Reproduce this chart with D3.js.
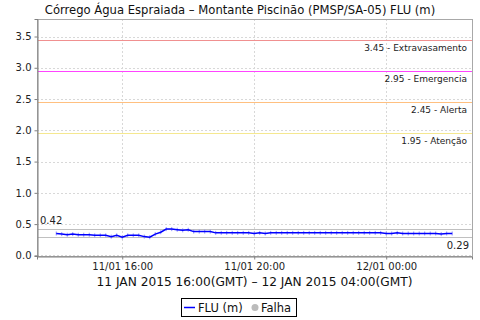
<!DOCTYPE html>
<html>
<head>
<meta charset="utf-8">
<style>
  body { margin: 0; background: #fff; }
  svg { display: block; font-family: "DejaVu Sans", sans-serif; }
</style>
</head>
<body>
<svg id="chart"></svg>
<script src="https://d3js.org/d3.v7.min.js"></script>
<script>

  // readings every 10 minutes, from 11/01 14:00 to 12/01 02:00 (GMT)
  var startTime = "2015-01-11T14:00:00Z";
  var stepMinutes = 10;
  var levels = [
    0.35, 0.34, 0.33, 0.34, 0.33, 0.33, 0.33, 0.32, 0.32, 0.32, 0.30, 0.32,
    0.29, 0.32, 0.32, 0.32, 0.30, 0.29, 0.34, 0.37, 0.42, 0.42, 0.41, 0.40,
    0.41, 0.38, 0.38, 0.38, 0.38, 0.36, 0.36, 0.36, 0.36, 0.36, 0.36, 0.36,
    0.35, 0.36, 0.35, 0.36, 0.36, 0.36, 0.36, 0.36, 0.36, 0.36, 0.36, 0.36,
    0.36, 0.36, 0.36, 0.36, 0.36, 0.36, 0.36, 0.36, 0.36, 0.36, 0.36, 0.36,
    0.35, 0.35, 0.36, 0.35, 0.35, 0.35, 0.35, 0.35, 0.35, 0.35, 0.34, 0.35,
    0.35
  ];

  var thresholdValues = [3.45, 2.95, 2.45, 1.95];
  var thresholdNames = ["Extravasamento", "Emergencia", "Alerta", "Atenção"];
  var thresholdColors = ["#f09090", "#ff44ff", "#ffc080", "#f5e890"];

  var maxValue = 0.42;
  var minValue = 0.29;

  var yTicks = [0.0, 0.5, 1.0, 1.5, 2.0, 2.5, 3.0, 3.5];
  var xTicks = ["2015-01-11T16:00:00Z", "2015-01-11T20:00:00Z", "2015-01-12T00:00:00Z"];

  var title = "Córrego Água Espraiada – Montante Piscinão (PMSP/SA-05) FLU (m)";
  var xLabel = "11 JAN 2015 16:00(GMT) – 12 JAN 2015 04:00(GMT)";
  var seriesName = "FLU (m)";
  var failName = "Falha";

  var width = 480, height = 320;
  var plot = {left: 37, right: 472, top: 19, bottom: 256};

  var svg = d3.select("#chart")
    .attr("width", width)
    .attr("height", height);

  var data = levels.map(function(v, i) {
    return {time: new Date(Date.parse(startTime) + i * stepMinutes * 60000), value: v};
  });

  var xScale = d3.scaleUtc()
    .domain([new Date("2015-01-11T13:25:00Z"), new Date("2015-01-12T02:36:00Z")])
    .range([plot.left, plot.right]);

  var yScale = d3.scaleLinear()
    .domain([-0.01, 3.78])
    .range([plot.bottom, plot.top]);

  function py(v) { return Math.round(yScale(v)) + 0.5; }

  // title
  svg.append("text")
    .attr("x", 240)
    .attr("y", 14)
    .attr("text-anchor", "middle")
    .attr("fill", "#111")
    .style("font-size", "11.6px")
    .text(title);

  // grid
  var grid = svg.append("g");

  grid.selectAll("line.h")
    .data(yTicks)
    .enter().append("line")
    .attr("class", "h")
    .attr("x1", plot.left)
    .attr("x2", plot.right)
    .attr("y1", py)
    .attr("y2", py);

  grid.selectAll("line.v")
    .data(xTicks)
    .enter().append("line")
    .attr("class", "v")
    .attr("y1", plot.top)
    .attr("y2", plot.bottom)
    .attr("x1", function(d) { return Math.round(xScale(new Date(d))) + 0.5; })
    .attr("x2", function(d) { return Math.round(xScale(new Date(d))) + 0.5; });

  grid.selectAll("line")
    .style("stroke", "#d8d8d8")
    .style("stroke-dasharray", "2 2")
    .style("stroke-width", "1px");

  // thresholds
  var thresholds = svg.append("g");
  thresholds.selectAll("line")
    .data(thresholdValues)
    .enter().append("line")
    .attr("x1", plot.left)
    .attr("x2", plot.right)
    .attr("y1", py)
    .attr("y2", py)
    .attr("shape-rendering", "crispEdges")
    .style("stroke", function(d, i) { return thresholdColors[i]; })
    .style("stroke-width", "1px");

  thresholds.selectAll("text")
    .data(thresholdValues)
    .enter().append("text")
    .attr("x", plot.right - 5)
    .attr("y", function(d) { return yScale(d) + 11; })
    .attr("text-anchor", "end")
    .style("font-size", "9px")
    .attr("fill", "#222")
    .text(function(d, i) { return d.toFixed(2) + " - " + thresholdNames[i]; });

  // max / min markers
  svg.append("g").selectAll("line")
    .data([maxValue, minValue])
    .enter().append("line")
    .attr("x1", plot.left)
    .attr("x2", plot.right)
    .attr("y1", py)
    .attr("y2", py)
    .attr("stroke", "#c0c0c0")
    .attr("stroke-width", 1);

  svg.append("text")
    .attr("x", plot.left + 3)
    .attr("y", yScale(maxValue) - 5)
    .style("font-size", "10px")
    .attr("fill", "#222")
    .text(maxValue.toFixed(2));

  svg.append("text")
    .attr("x", plot.right - 3)
    .attr("y", yScale(minValue) + 12)
    .attr("text-anchor", "end")
    .style("font-size", "10px")
    .attr("fill", "#222")
    .text(minValue.toFixed(2));

  // series
  var line = d3.line()
    .x(function(d) { return xScale(d.time); })
    .y(function(d) { return yScale(d.value); });

  svg.append("g").selectAll("line")
    .data(data)
    .enter().append("line")
    .attr("x1", function(d) { return xScale(d.time); })
    .attr("x2", function(d) { return xScale(d.time); })
    .attr("y1", function(d) { return yScale(d.value) - 2; })
    .attr("y2", function(d) { return yScale(d.value) + 2; })
    .attr("stroke", "#9090ff")
    .attr("stroke-width", 1);

  svg.append("path")
    .datum(data)
    .attr("fill", "none")
    .attr("stroke", "#0000ff")
    .attr("stroke-width", 1.5)
    .attr("d", line);

  // plot outline
  svg.append("rect")
    .attr("x", plot.left + 0.5)
    .attr("y", plot.top + 0.5)
    .attr("width", plot.right - plot.left)
    .attr("height", plot.bottom - plot.top)
    .attr("fill", "none")
    .attr("stroke", "#a8a8a8");

  // axes
  var yAxis = d3.axisLeft(yScale)
    .tickValues(yTicks)
    .tickFormat(d3.format(".1f"))
    .tickSize(3)
    .tickPadding(3);

  var yG = svg.append("g")
    .attr("transform", "translate(" + (plot.left + 0.5) + ",0)")
    .call(yAxis);

  var xAxis = d3.axisBottom(xScale)
    .tickValues(xTicks.map(function(d) { return new Date(d); }))
    .tickFormat(d3.utcFormat("%d/%m %H:%M"))
    .tickSize(3)
    .tickPadding(3);

  var xG = svg.append("g")
    .attr("transform", "translate(0," + (plot.bottom + 0.5) + ")")
    .call(xAxis);

  [yG, xG].forEach(function(g) {
    g.select(".domain").attr("stroke", "#808080");
    g.selectAll(".tick line").attr("stroke", "#808080");
    g.selectAll(".tick text")
      .attr("fill", "#222")
      .style("font-family", "DejaVu Sans, sans-serif")
      .style("font-size", "10px");
  });

  // x axis label, centred under the plot
  svg.append("text")
    .attr("x", (plot.left + plot.right) / 2)
    .attr("y", 286)
    .attr("text-anchor", "middle")
    .attr("fill", "#111")
    .style("font-size", "12.2px")
    .text(xLabel);

  // legend
  var legend = svg.append("g");
  legend.append("rect")
    .attr("x", 181.5)
    .attr("y", 298.5)
    .attr("width", 115)
    .attr("height", 18)
    .attr("fill", "#fff")
    .attr("stroke", "#000");

  legend.append("line")
    .attr("x1", 184)
    .attr("x2", 195)
    .attr("y1", 307.5)
    .attr("y2", 307.5)
    .attr("stroke", "#0000ff")
    .attr("stroke-width", 1.5);

  legend.append("text")
    .attr("x", 198)
    .attr("y", 312)
    .attr("fill", "#111")
    .style("font-size", "11.5px")
    .text(seriesName);

  legend.append("circle")
    .attr("cx", 255)
    .attr("cy", 307.5)
    .attr("r", 3.5)
    .attr("fill", "#bbbbbb");

  legend.append("text")
    .attr("x", 261)
    .attr("y", 312)
    .attr("fill", "#111")
    .style("font-size", "11.5px")
    .text(failName);

</script>
</body>
</html>
